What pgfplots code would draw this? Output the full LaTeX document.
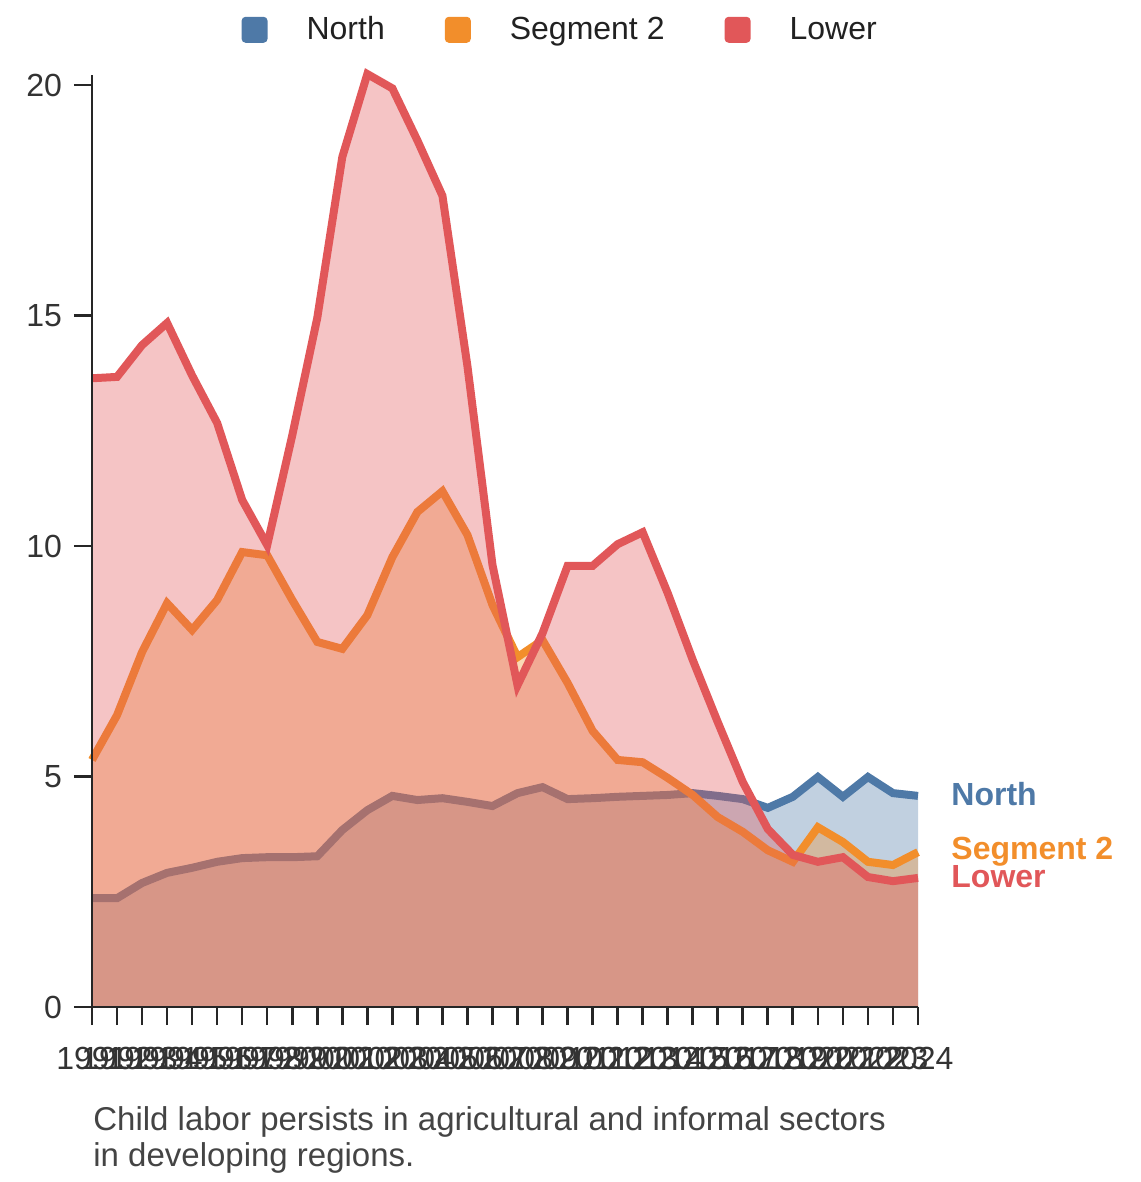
\documentclass[border=0pt]{standalone}
\usepackage{pgfplots}
\usepackage{pgfplotstable}
\pgfplotsset{compat=1.18}
\usepackage{fontspec}
\setmainfont{Liberation Sans}
\definecolor{cN}{HTML}{4E79A7}
\definecolor{cS}{HTML}{F28E2B}
\definecolor{cL}{HTML}{E15759}
\definecolor{txt}{HTML}{333333}
\definecolor{cap}{HTML}{444444}
\pgfplotstableread{
year N S L
1991 2.36 5.36 13.64
1992 2.36 6.33 13.67
1993 2.69 7.70 14.36
1994 2.91 8.76 14.84
1995 3.02 8.18 13.70
1996 3.15 8.83 12.67
1997 3.23 9.87 11.00
1998 3.25 9.80 10.02
1999 3.25 8.83 12.40
2000 3.27 7.92 14.95
2001 3.84 7.77 18.44
2002 4.27 8.50 20.24
2003 4.58 9.76 19.93
2004 4.49 10.74 18.80
2005 4.53 11.19 17.60
2006 4.45 10.24 13.90
2007 4.36 8.72 9.59
2008 4.64 7.59 6.98
2009 4.77 7.96 8.11
2010 4.51 7.03 9.57
2011 4.53 5.99 9.57
2012 4.56 5.36 10.04
2013 4.58 5.31 10.30
2014 4.60 4.97 8.98
2015 4.64 4.60 7.53
2016 4.58 4.12 6.18
2017 4.51 3.80 4.88
2018 4.32 3.40 3.86
2019 4.56 3.15 3.30
2020 4.99 3.90 3.15
2021 4.56 3.58 3.25
2022 4.99 3.15 2.82
2023 4.64 3.08 2.73
2024 4.58 3.36 2.80
}\data
\begin{document}
\begin{tikzpicture}[x=1pt,y=1pt]
\useasboundingbox (0,0) rectangle (570,591);
\begin{axis}[
  at={(46pt,87.5pt)}, anchor=south west,
  scale only axis, width=413pt, height=466pt,
  xmin=1991, xmax=2024, ymin=0, ymax=20.22,
  axis x line*=bottom, axis y line*=left,
  axis line style={-, line width=1.3pt, color=black!85},
  axis on top=true,
  clip=false,
  xtick={1991,...,2024}, ytick={0,5,10,15,20},
  tick align=outside, major tick length=9pt,
  tick style={line width=1.3pt, color=black!85},
  /pgf/number format/assume math mode=true,
  xticklabel style={/pgf/number format/1000 sep={}, yshift=-7.5pt},
  yticklabel style={xshift=-2.5pt},
  ticklabel style={font=\fontsize{16}{19}\selectfont, text=txt},
  legend style={at={(0.568,1.0485)}, anchor=center, draw=none, fill=none,
    font=\fontsize{16}{19}\selectfont, text=black!87,
    /tikz/every odd column/.append style={column sep=17.5pt},
    /tikz/every even column/.append style={column sep=28pt}},
  legend columns=3,
  legend image code/.code={\fill[#1, rounded corners=2pt] (0pt,-6.5pt) rectangle (13pt,6.5pt);},
]
\addlegendimage{fill=cN, draw=none}
\addlegendentry{North}
\addlegendimage{fill=cS, draw=none}
\addlegendentry{Segment 2}
\addlegendimage{fill=cL, draw=none}
\addlegendentry{Lower}

\addplot[forget plot, draw=none, fill=cN, fill opacity=0.35] table[x=year, y=N] {\data} \closedcycle;
\addplot[forget plot, cN, line width=4pt] table[x=year, y=N] {\data};
\addplot[forget plot, draw=none, fill=cS, fill opacity=0.35] table[x=year, y=S] {\data} \closedcycle;
\addplot[forget plot, cS, line width=4pt] table[x=year, y=S] {\data};
\addplot[forget plot, draw=none, fill=cL, fill opacity=0.35] table[x=year, y=L] {\data} \closedcycle;
\addplot[forget plot, cL, line width=4pt] table[x=year, y=L] {\data};

\node[anchor=base west, inner sep=0pt, xshift=16.5pt, text=cN, font=\bfseries\fontsize{16}{19}\selectfont] at (axis cs:2024,4.38) {North};
\node[anchor=base west, inner sep=0pt, xshift=16.5pt, text=cS, font=\bfseries\fontsize{16}{19}\selectfont] at (axis cs:2024,3.21) {Segment 2};
\node[anchor=base west, inner sep=0pt, xshift=16.5pt, text=cL, font=\bfseries\fontsize{16}{19}\selectfont] at (axis cs:2024,2.60) {Lower};
\end{axis}
\node[anchor=base west, inner sep=0pt, text=cap, font=\fontsize{16.5}{19}\selectfont] at (46.5,25.5) {Child labor persists in agricultural and informal sectors};
\node[anchor=base west, inner sep=0pt, text=cap, font=\fontsize{16.5}{19}\selectfont] at (46.5,7.5) {in developing regions.};
\end{tikzpicture}
\end{document}
